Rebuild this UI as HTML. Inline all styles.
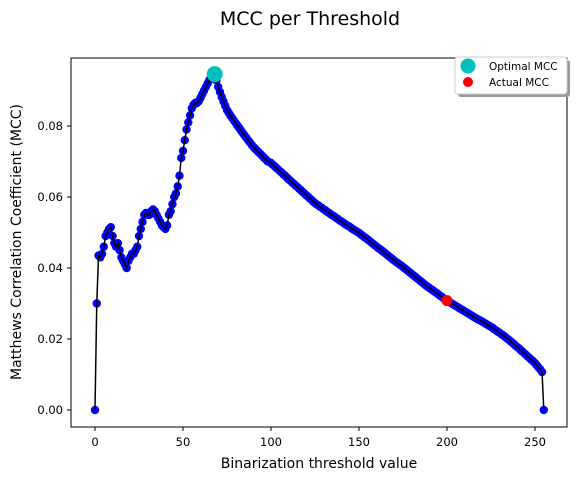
<!DOCTYPE html>
<html><head><meta charset="utf-8"><style>
body{margin:0;background:#fff;}
svg text{font-family:"DejaVu Sans","Liberation Sans",sans-serif;}
</style></head><body>
<svg id="chart" width="579" height="480" xmlns="http://www.w3.org/2000/svg">
<rect x="0" y="0" width="579" height="480" fill="#fff"/>
<text x="310" y="25" text-anchor="middle" font-size="19">MCC per Threshold</text>
<g id="plot"></g>
<rect x="71" y="58" width="496" height="369" fill="none" stroke="#000" stroke-width="1"/>
<g id="xticks"></g><g id="yticks"></g>
<text x="319" y="468" text-anchor="middle" font-size="14">Binarization threshold value</text>
<text transform="translate(21,242) rotate(-90)" text-anchor="middle" font-size="14">Matthews Correlation Coefficient (MCC)</text>
<g>
<rect x="458" y="60" width="112" height="37" rx="3" fill="#999"/>
<rect x="455" y="57" width="112" height="37" rx="3" fill="#fff" stroke="#ccc"/>
<circle cx="468" cy="66" r="7.5" fill="#00bfbf"/>
<text x="489" y="70" font-size="10.5">Optimal MCC</text>
<circle cx="468" cy="82" r="5" fill="#ff0000"/>
<text x="489" y="86" font-size="10.5">Actual MCC</text>
</g>
</svg>
<script>
const mccValues=[0,0.030,0.0435,0.043,0.044,0.046,0.049,0.050,0.051,0.0515,
0.049,0.047,0.046,0.047,0.045,0.043,0.042,0.041,0.040,0.042,
0.043,0.044,0.044,0.045,0.046,0.049,0.051,0.053,0.055,0.0555,
0.055,0.055,0.056,0.0565,0.056,0.055,0.054,0.053,0.052,0.0515,
0.051,0.052,0.055,0.056,0.058,0.060,0.061,0.063,0.066,0.071,
0.073,0.076,0.079,0.081,0.083,0.085,0.086,0.0865,0.0865,0.087,
0.088,0.089,0.090,0.091,0.092,0.093,0.094,0.0943,0.0946,0.0928,
0.091,0.0896,0.0882,0.0869,0.0857,0.0845,0.0837,0.0829,0.0822,0.0815,
0.0808,0.0801,0.0794,0.0787,0.078,0.0773,0.0767,0.076,0.0754,0.0747,
0.0741,0.0736,0.0731,0.0726,0.0721,0.0716,0.0711,0.0706,0.0701,0.0698,
0.0696,0.0691,0.0687,0.0682,0.0678,0.0673,0.0669,0.0664,0.066,0.0655,
0.065,0.0646,0.0641,0.0637,0.0632,0.0628,0.0623,0.0619,0.0614,0.061,
0.0605,0.0601,0.0596,0.0592,0.0587,0.0583,0.0579,0.0576,0.0572,0.0569,
0.0565,0.0562,0.0558,0.0555,0.0551,0.0548,0.0545,0.0541,0.0538,0.0534,
0.0531,0.0528,0.0524,0.0521,0.0518,0.0515,0.0511,0.0508,0.0505,0.0502,
0.0499,0.0495,0.0491,0.0487,0.0484,0.048,0.0476,0.0472,0.0468,0.0464,
0.046,0.0456,0.0453,0.0449,0.0445,0.0441,0.0437,0.0433,0.0429,0.0425,
0.0421,0.0417,0.0414,0.041,0.0407,0.0403,0.0399,0.0395,0.0391,0.0387,
0.0383,0.0379,0.0375,0.0371,0.0367,0.0363,0.0359,0.0355,0.0351,0.0347,
0.0344,0.034,0.0337,0.0333,0.033,0.0326,0.0322,0.0319,0.0315,0.0311,
0.0308,0.0305,0.0302,0.0299,0.0296,0.0293,0.029,0.0287,0.0284,0.0281,
0.0278,0.0275,0.0272,0.0269,0.0266,0.0263,0.026,0.0257,0.0254,0.0252,
0.0249,0.0246,0.0243,0.024,0.0237,0.0234,0.0231,0.0227,0.0224,0.022,
0.0217,0.0213,0.021,0.0206,0.0202,0.0198,0.0194,0.019,0.0186,0.0181,
0.0177,0.0173,0.0168,0.0164,0.0159,0.0155,0.015,0.0146,0.0141,0.0137,
0.0132,0.0126,0.0120,0.0114,0.0107,0];
const optimalPoint=[68,0.0946];
const actualPoint=[200,0.0308];
const xTickValues=[0,50,100,150,200,250];
const yTickValues=[0,0.02,0.04,0.06,0.08];
const yTickLabels=["0.00","0.02","0.04","0.06","0.08"];

const NS="http://www.w3.org/2000/svg";
const sx=v=>95+v*1.76;
const sy=v=>410-v*3550;
function mk(tag,attrs,parent){const e=document.createElementNS(NS,tag);for(const k in attrs)e.setAttribute(k,attrs[k]);parent.appendChild(e);return e;}
const plot=document.getElementById('plot');
let d=mccValues.map((v,i)=>(i?'L':'M')+sx(i).toFixed(2)+','+sy(v).toFixed(2)).join('');
mccValues.forEach((v,i)=>{
 const c=mk('circle',{cx:sx(i),cy:sy(v),r:4.2,fill:'#0000ff'},plot);
 
 
});
const line=mk('path',{d:d,fill:'none',stroke:'#000','stroke-width':1.5},plot);


const op=mk('circle',{cx:sx(optimalPoint[0]),cy:sy(optimalPoint[1]),r:8,fill:'#00bfbf'},plot);


const ap=mk('circle',{cx:sx(actualPoint[0]),cy:sy(actualPoint[1]),r:5.5,fill:'#ff0000'},plot);


const xt=document.getElementById('xticks');
xTickValues.forEach(v=>{
 mk('line',{x1:sx(v),x2:sx(v),y1:427,y2:431,stroke:'#000'},xt);
 const t=mk('text',{x:sx(v),y:446,'text-anchor':'middle','font-size':11.5},xt);
 t.textContent=v;
 
 
});
const yt=document.getElementById('yticks');
yTickValues.forEach((v,i)=>{
 mk('line',{x1:67,x2:71,y1:sy(v),y2:sy(v),stroke:'#000'},yt);
 const t=mk('text',{x:63,y:sy(v)+4,'text-anchor':'end','font-size':11.5},yt);
 t.textContent=yTickLabels[i];
 
 
});
</script>
</body></html>
